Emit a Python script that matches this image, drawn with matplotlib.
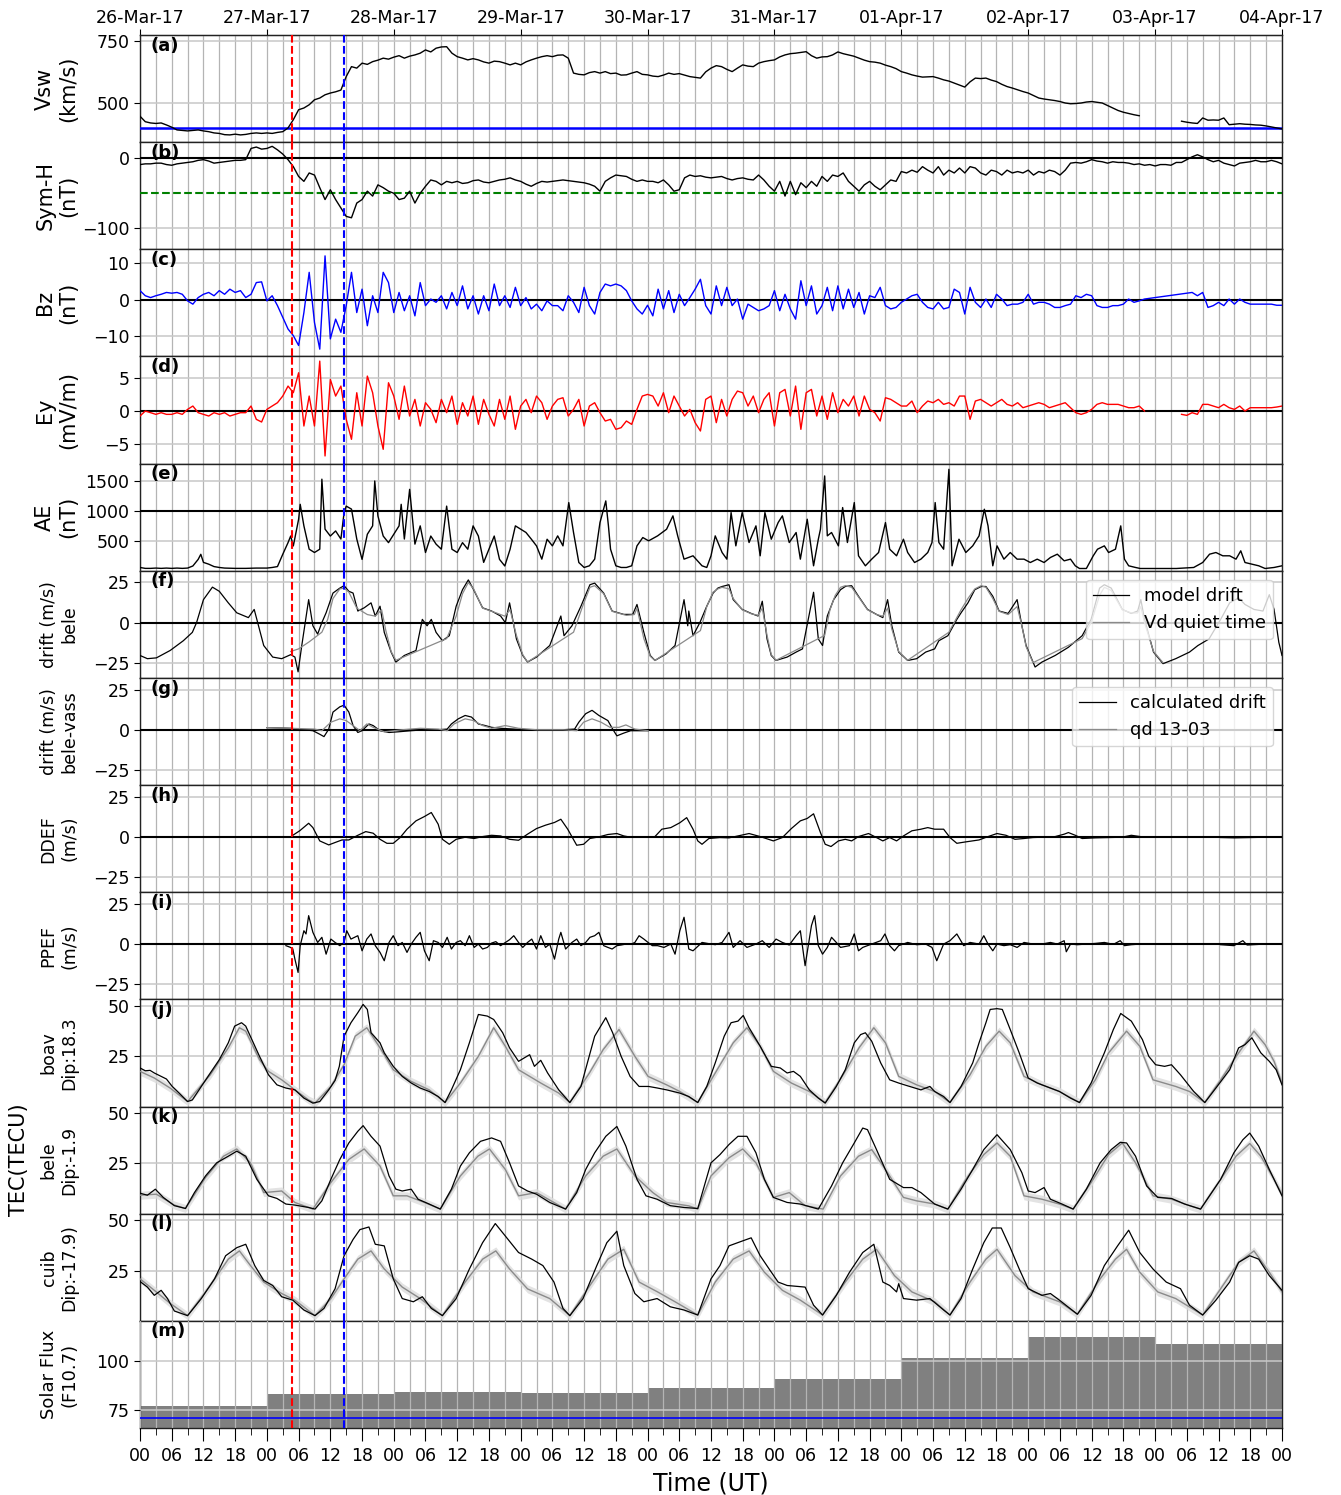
# -*- coding: utf-8 -*-

"""Storm overview 26-Mar to 04-Apr 2017: solar wind, indices, drifts, TEC and F10.7."""

import matplotlib

matplotlib.use("Agg")
import matplotlib.pyplot as plt
import numpy as np
from matplotlib.ticker import MultipleLocator

nan = float("nan")

day_labels = ["26-Mar-17", "27-Mar-17", "28-Mar-17", "29-Mar-17", "30-Mar-17",
              "31-Mar-17", "01-Apr-17", "02-Apr-17", "03-Apr-17", "04-Apr-17"]
onset_hour = 28.75        # red dashed line
main_phase_hour = 38.6    # blue dashed line
vsw_reference = 400
symh_threshold = -50
ae_reference = 1000
f107_reference = 71

# hourly values, one row per day, last entry is 04-Apr 00 UT
vsw_kms = [
    447, 425, 420, 418, 420, 412, 403, 392, 390, 388, 390, 392, 388, 385, 380, 378, 373, 372, 375, 372, 374, 378, 380, 378,
    380, 378, 382, 385, 400, 433, 473, 480, 493, 513, 520, 533, 540, 545, 552, 606, 646, 640, 660, 655, 666, 672, 680, 676,
    684, 690, 680, 688, 693, 700, 713, 705, 720, 725, 726, 700, 686, 680, 673, 678, 673, 665, 660, 668, 666, 660, 653, 660,
    653, 665, 673, 680, 686, 690, 686, 692, 693, 680, 620, 615, 613, 622, 626, 620, 626, 618, 620, 612, 613, 620, 626, 615,
    613, 608, 606, 612, 620, 615, 618, 612, 606, 603, 600, 625, 640, 650, 646, 635, 626, 640, 653, 648, 646, 660, 666, 670,
    673, 685, 693, 698, 700, 703, 706, 690, 680, 685, 686, 693, 705, 698, 693, 688, 680, 672, 666, 664, 660, 652, 646, 638,
    626, 620, 613, 608, 604, 605, 606, 600, 593, 588, 580, 572, 564, 585, 600, 598, 600, 592, 586, 575, 566, 560, 553, 546,
    540, 530, 520, 516, 513, 510, 506, 500, 497, 498, 500, 504, 506, 503, 500, 490, 480, 470, 463, 458, 453, 449, nan, nan,
    nan, nan, nan, nan, nan, 427, 423, 420, 418, 440, 431, 432, 431, 440, 413, 415, 417, 415, 414, 412, 411, 408, 404, 400,
    396,
]
symh_nt = [
    -9, -8, -8, -7, -7, -9, -10, -8, -7, -6, -5, -3, -2, -4, -7, -6, -5, -4, -3, -3, -2, 14, 16, 13,
    14, 17, 12, 6, -2, -12, -26, -33, -21, -24, -42, -59, -45, -59, -71, -83, -85, -64, -59, -47, -54, -38, -42, -47,
    -50, -59, -57, -47, -64, -50, -40, -31, -33, -38, -33, -35, -33, -36, -35, -32, -31, -34, -35, -33, -31, -30, -28, -31,
    -33, -37, -40, -36, -33, -34, -33, -32, -31, -32, -33, -34, -35, -37, -40, -47, -33, -28, -24, -25, -26, -30, -33, -31,
    -33, -33, -35, -31, -38, -47, -45, -28, -24, -26, -25, -27, -28, -27, -26, -29, -31, -29, -28, -30, -31, -24, -31, -40,
    -47, -33, -54, -33, -52, -35, -42, -33, -40, -26, -33, -24, -26, -21, -33, -40, -47, -38, -33, -40, -45, -38, -31, -33,
    -19, -21, -17, -20, -12, -17, -21, -12, -24, -17, -21, -14, -21, -12, -14, -21, -24, -17, -19, -24, -17, -21, -19, -21,
    -17, -24, -19, -21, -17, -19, -24, -17, -7, -6, -7, -5, -2, -4, -5, -7, -5, -6, -6, -7, -9, -8, -10, -9,
    -11, -9, -9, -10, -6, -6, -2, 2, 5, 2, -2, -5, -3, -7, -9, -11, -7, -6, -5, -3, -5, -5, -3, -5,
    -8,
]
bz_nt = [
    2.5, 1.1, 0.6, 1.1, 1.5, 2.0, 1.8, 2.0, 1.5, -0.3, -1.2, 0.6, 1.5, 2.0, 1.1, 2.5, 1.5, 2.9, 2.0, 2.5, 0.6, 1.5, 4.7, 4.9,
    -0.3, 1.1, -1.6, -4.8, -8.0, -9.8, -12.5, -3.5, 7.5, -6.2, -13.5, 12.0, -10.7, -5.3, -8.9, -1.6, 7.5, -3.5, 2.9, -7.1, 1.1, -3.5, 7.5, 4.7,
    -3.5, 2.0, -3.0, 1.1, -4.4, 4.7, -1.6, 0.2, -0.7, 1.1, -2.5, 2.0, -1.6, 3.8, -2.5, 1.1, -3.9, 1.1, -3.0, 4.3, -1.6, 1.1, -2.1, 3.4,
    -1.6, 0.6, -2.5, -1.2, -3.0, -0.3, -1.6, -1.6, -3.0, 1.1, -0.7, -3.5, 3.4, -1.6, -3.9, 2.0, 4.3, 3.8, 4.3, 3.8, 2.5, -0.3, -2.5, -3.9,
    -1.5, -4.4, 2.9, -2.5, 2.5, -3.5, 1.5, -1.6, 0.6, 2.9, 5.6, -1.6, -3.9, 3.8, -1.6, 3.4, -1.6, 0.2, -5.3, -1.2, -2.1, -3.0, -2.5, -1.6,
    2.5, -3.0, 1.5, -2.5, -5.3, 5.2, -1.6, 3.8, -3.9, -1.6, 3.4, -3.0, 3.8, -2.5, 2.9, -2.1, 2.0, -3.9, 1.1, 0.6, 3.4, -1.6, -2.5, -2.1,
    -0.7, 0.2, 1.1, 1.5, -0.7, -2.1, -2.5, -0.7, -2.5, -2.1, 2.9, 2.0, -3.9, 3.4, -0.7, -2.1, 0.2, -2.1, 1.5, 0.2, -1.6, -1.2, -1.2, -0.7,
    1.5, -1.2, -0.7, -0.7, -1.2, -2.1, -2.1, -1.6, -1.2, 1.1, 0.6, 1.5, 1.1, -1.6, -2.1, -2.1, -1.6, -1.6, -1.2, 0.2, -0.7, -0.3, 0.2, nan,
    nan, nan, nan, nan, nan, nan, 1.8, 2.0, 1.1, 2.0, -2.1, -1.6, -0.7, -1.6, 0.2, -1.2, 0.2, -0.7, -1.2, -1.2, -1.2, -1.2, -1.2, -1.5,
    -1.5,
]
ey_mvm = [
    -0.75, 0, -0.25, -0.5, -0.25, -0.5, -0.5, -0.25, -0.5, 0.25, 0.75, -0.25, -0.5, -0.75, -0.25, -0.5, -0.25, -0.75, -0.5, -0.25, -0.25, 0.75, -1.25, -1.65,
    0.25, 0.75, 1.25, 2.25, 3.75, 2.75, 5.75, -2.25, 2.25, -2.25, 7.5, -6.75, 4.75, 2.25, 3.75, -1.25, -4.25, 2.75, -2.25, 5.25, 2.75, -2.25, -5.75, 4.25,
    2.25, -1.25, 3.75, -0.75, 1.75, -2.25, 1.25, 0.25, -1.75, 1.75, -0.25, 2.25, -2.0, 1.25, -0.75, 2.25, -2.0, 1.75, -0.5, -2.25, 1.75, -1.25, 2.25, -2.75,
    0.75, 1.75, -0.25, 2.25, 1.25, -1.25, 0.75, 1.75, 2.0, -0.75, 0.25, 1.75, -2.25, 0.75, 1.25, -0.25, -1.5, -1.25, -2.75, -2.5, -1.5, -2.0, 0.25, 2.25,
    2.5, 2.25, 0.75, 2.75, -0.25, 2.25, 0.75, -0.75, 0.25, -1.75, -3.0, 1.75, 2.25, -1.75, 1.75, -0.75, 1.75, 3.0, 2.75, 0.75, 2.25, -0.25, 1.75, 2.75,
    -2.25, 2.75, 3.25, -0.75, 3.75, -2.75, 2.75, 3.25, -0.75, 2.25, -1.25, 2.75, -0.25, 1.75, 0.75, 2.25, -0.75, 2.25, 0.25, -0.25, -1.5, 2.0, 1.75, 1.25,
    0.75, 0.75, 1.5, -0.25, 0.75, 1.5, 1.25, 1.75, 1.0, 1.25, 0.75, 2.25, 2.25, -1.25, 1.5, 1.75, 1.25, 0.75, 1.25, 1.75, 1.0, 0.75, 1.25, 0.5,
    0.75, 1.0, 1.25, 1.0, 0.5, 0.75, 1.0, 1.25, 0.5, -0.25, -0.5, -0.25, 0.25, 1.0, 1.25, 1.0, 1.0, 1.0, 0.75, 0.5, 0.5, 0.75, 0, nan,
    nan, nan, nan, nan, nan, -0.5, -0.65, -0.25, -0.5, 1.0, 1.0, 0.75, 0.5, 1.0, 0.5, 0.25, 0.75, 0, 0.5, 0.5, 0.5, 0.5, 0.5, 0.6,
    0.75,
]

# (hour since 26-Mar 00 UT, value)
ae_points = [
    (0, 55), (1, 40), (2, 40), (3, 45), (4, 40), (5, 45), (6, 40), (7, 45), (8, 40), (9, 45), (10, 80), (11, 190),
    (11.5, 275), (12, 140), (13, 110), (14, 70), (15, 55), (16, 45), (18, 40), (20, 40), (22, 45), (24, 45), (25, 55),
    (26, 70), (27, 275), (28, 470), (28.5, 580), (29, 415), (30, 860), (30.3, 1110), (31, 750), (32, 360), (33, 305),
    (34, 360), (34.4, 1530), (35, 695), (36, 580), (37, 665), (38, 530), (38.6, 970), (39, 1080), (40, 1030), (41, 530),
    (42, 190), (43, 610), (44, 750), (44.4, 1500), (45, 915), (46, 580), (47, 470), (48, 610), (49, 750), (49.4, 1110),
    (50, 530), (51, 1360), (52, 445), (53, 750), (54, 305), (55, 580), (56, 445), (57, 360), (58, 1080), (59, 360),
    (60, 305), (61, 470), (62, 360), (63, 750), (64, 580), (65, 140), (66, 360), (67, 580), (68, 190), (69, 80),
    (70, 360), (71, 750), (72, 695), (73, 640), (74, 530), (75, 415), (76, 194), (77, 527), (78, 416), (79, 583),
    (80, 416), (81.1, 1139), (82, 639), (83, 138), (84, 55), (85, 83), (86, 194), (87, 805), (88.1, 1167), (88.6, 750),
    (89, 360), (90, 83), (91, 55), (92, 55), (93, 83), (94, 416), (95.1, 555), (96.2, 500), (97.9, 583), (99.6, 694),
    (100.8, 917), (101.7, 583), (102.9, 194), (104.6, 250), (106.3, 83), (107.2, 55), (108, 250), (108.8, 583),
    (110.1, 305), (111, 194), (111.8, 972), (112.7, 416), (113.9, 972), (115.2, 472), (116.5, 750), (117.3, 250),
    (118.2, 972), (119.4, 527), (120.7, 805), (121.5, 917), (122.8, 472), (124.1, 639), (124.9, 194), (126.2, 861),
    (127.4, 83), (128.3, 527), (128.7, 694), (129.5, 1584), (130, 583), (130.8, 639), (132.1, 416), (132.9, 1056),
    (133.8, 472), (135.1, 1139), (135.9, 250), (137.2, 83), (138.4, 194), (139.7, 305), (141, 805), (141.8, 360),
    (143.1, 250), (144.4, 527), (145.2, 305), (146.5, 138), (147.7, 194), (149, 305), (149.8, 472), (150.4, 1139),
    (151.1, 472), (152, 360), (153, 1695), (153.6, 83), (154.9, 527), (156.2, 305), (157.5, 416), (158.7, 583),
    (159.7, 1028), (160.4, 750), (161.3, 83), (162.1, 416), (163.4, 194), (164.6, 305), (165.9, 194), (167.2, 194),
    (168.4, 138), (169.7, 194), (171, 138), (172.2, 222), (173.5, 277), (174.8, 166), (176, 194), (176.9, 83),
    (177.7, 38), (179, 38), (180.3, 250), (181.1, 360), (182.4, 416), (183.2, 305), (184.5, 360), (185.5, 750),
    (186.2, 194), (187, 83), (188.3, 55), (189.2, 38), (192, 38), (196, 38), (199.3, 55), (201, 138), (202.3, 277),
    (203.5, 305), (204.8, 250), (206.1, 250), (207.3, 194), (208.2, 333), (209, 138), (210.3, 111), (211.6, 83),
    (212.8, 38), (214.5, 55), (216, 83),
]

drift_model_points = [
    (0, -20.5), (1.4, -22.5), (3.1, -22), (5.7, -17.4), (8.2, -11.3), (9.9, -6.1), (10.7, 0), (12, 14.3), (13.7, 22.1),
    (15, 19.5), (16.7, 12.3), (18.3, 6.1), (20.5, 3.1), (21.6, 8.2), (22.1, 2), (23.4, -14.3), (25.1, -21.5),
    (26.8, -22.5), (28.5, -20), (29.3, -21.5), (29.9, -30.7), (30.6, -14.3), (31.9, 14.3), (32.7, -2), (33.6, -7.2),
    (34.4, 0), (35.2, 6.1), (36.5, 18.4), (37.8, 21.5), (38.6, 23), (39.5, 19.5), (40.3, 18.4), (41.2, 7.2),
    (42.4, 9.2), (43.7, 12.3), (44.5, 4.1), (45.4, 10.2), (46.2, -6.1), (47.5, -18.4), (48.4, -24.6), (50, -20.5),
    (52.2, -17.4), (53.4, 2), (54.3, -2), (55.1, 2), (56, -6.1), (57.2, -11.3), (58.5, -8.2), (59.8, 10.2), (61, 20.5),
    (62.1, 26.6), (63.1, 20.5), (64.8, 9.2), (66.5, 7.2), (68.2, 4.1), (69.1, 0), (69.9, 12.3), (71.2, -10.2),
    (72.4, -20.5), (73.3, -24.6), (75, -21.5), (77.5, -14.3), (79.6, 4.1), (80.2, -8.2), (81.7, -2), (83.4, 10.2),
    (85.1, 23.6), (86, 24.6), (87.7, 18.4), (89.3, 7.2), (91.5, 5.1), (93.2, 5.1), (94, 11.3), (95.3, -6.1),
    (96.5, -20.5), (97.4, -23.6), (99.5, -19.5), (101.2, -14.3), (102.9, 14.3), (103.6, -2), (103.8, 7.2),
    (104.6, -8.2), (105.9, 0), (107.2, 10.2), (108.4, 18.4), (109.3, 21.5), (110.1, 22.5), (111.4, 23.6), (112.2, 14.3),
    (113.9, 8.2), (115.6, 5.7), (116.9, 4.1), (117.7, 13.3), (118.6, -10.2), (119.4, -20.5), (120.3, -23.6),
    (122.4, -21.5), (124.1, -18.4), (125.3, -16.4), (127.4, 18.9), (128.3, -10.2), (129.1, -14.3), (130, 4.1),
    (131.2, 14.3), (132.5, 20.5), (133.4, 22.5), (134.6, 23.0), (135.9, 16.4), (137.6, 8.2), (139.3, 5.1),
    (140.5, 3.1), (141.4, 14.3), (142.2, -2), (143.5, -18.4), (145.2, -23.6), (146.9, -22.5), (148.6, -18.4),
    (150.3, -16.4), (151.1, -11.3), (152.8, -8.2), (154.5, 2), (155.3, 6.1), (156.6, 12.3), (157.9, 20.5),
    (159.1, 22.5), (160, 22.5), (161.3, 16.4), (162.5, 7.2), (164.2, 5.7), (165.9, 14.3), (166.8, -2), (167.6, -14.3),
    (168.9, -24.6), (169.3, -27.7), (170.6, -24.6), (173.1, -20.5), (175.6, -15.4), (178.2, -8.2), (179.9, 2),
    (181.5, 21.5), (182.4, 23.6), (183.7, 21.5), (185.8, 8.2), (187.5, 5.7), (188.7, 7.2), (189.3, 14.3), (190, 2),
    (191.7, -18.4), (193.5, -25.6), (195.9, -22.5), (198.5, -18.4), (200.1, -14.3), (202.2, -10.2), (204.4, 2),
    (206.1, 12.3), (207.8, 15.4), (209, 11.3), (210.7, 8.2), (212.4, 7.2), (213.6, 17.4), (214.5, 8.2), (215.4, -12.3),
    (216, -20.5),
]
drift_quiet_points = [
    (28.5, -18), (30, -16.4), (32, -12), (34.4, -6), (35.5, 2), (36.5, 15), (37.8, 21), (38.6, 21.5), (39.5, 19),
    (41, 9), (43, 5), (44.5, 4), (45.7, 8), (46.5, -5), (47.5, -18), (48.4, -23.5), (58, -10), (59.8, 4), (61, 18),
    (62.1, 25), (63.1, 21), (64.8, 9), (67.4, 6), (69, 4), (70, 8), (71.2, -8), (72.4, -20), (73.3, -24.6), (82, -6),
    (83.7, 10), (85.1, 22), (86, 23), (87.7, 18), (89.3, 7), (92, 4.5), (93.5, 5), (94, 9), (95.3, -10), (96.5, -21),
    (97.4, -23.6), (106, -5), (107.2, 10), (108.4, 19), (109.3, 21), (110.1, 22), (111.4, 21), (112.2, 15),
    (113.9, 8), (115.6, 5.5), (116.9, 4.5), (117.7, 9), (118.6, -8), (119.4, -20), (120.3, -23.5), (129.5, -8),
    (130.5, 8), (131.5, 17), (132.5, 22), (133.4, 23), (134.6, 22), (135.9, 16), (137.6, 8), (139.3, 5), (140.5, 4),
    (141.4, 9), (142.2, -4), (143.5, -18), (145.2, -23.5), (153, -6), (155.3, 8), (156.6, 15), (157.9, 21),
    (159.1, 23), (160, 22), (161.3, 15), (162.5, 7), (164.2, 5), (165.9, 10), (166.8, -2), (167.6, -15), (168.9, -25),
    (178.2, -10), (179.9, 0), (181.5, 17), (182.4, 22), (183.7, 20), (185.8, 8), (187.5, 6), (188.7, 6), (189.3, 10),
    (190, 0), (191.7, -18), (193.5, -25),
]

diff_drift_points = [
    (24, 1.3), (28.5, 0.9), (31, 0), (32.7, -0.6), (34, -2.8), (34.8, -4.3), (35.7, 0.4), (36.5, 11), (37.8, 14.3),
    (38.6, 15.3), (39.5, 11), (40.3, 2.6), (41.2, -1.7), (42, -0.6), (43.3, 3.6), (44.1, 2.6), (45.4, -0.6),
    (47.1, -1.7), (48.8, -1.3), (51.3, -0.6), (53.8, 0), (56.4, 0), (58.1, 0.4), (58.9, 3.6), (60.2, 6.8),
    (61.5, 8.9), (62.7, 7.9), (64, 3.6), (65.3, 2.6), (66.5, 1.5), (68.2, 0.9), (70.8, 0.4), (73.3, 0), (76.7, 0),
    (80, 0), (82.2, 0.4), (83, 4.7), (84.3, 10), (85.5, 12.1), (86.8, 8.9), (88.5, 5.7), (89.4, 0.4), (90.2, -3.8),
    (91.5, -2.1), (92.8, -0.6), (95.3, -0.6), (96.1, -0.6),
]
diff_quiet_points = [
    (24, 1.3), (28.5, 0.9), (33, 0.4), (34.4, -0.6), (36.1, 4.7), (37.8, 6.8), (39, 5.7), (40.3, 2.6), (41.6, -0.6),
    (42.9, 3.6), (44.1, 1.5), (46.2, -1.3), (49.6, 0), (53, 0.9), (56.4, 0.4), (58.1, -0.6), (59.4, 3.6), (61.5, 6.8),
    (63.1, 5.7), (64.8, 2.6), (66.5, 0.9), (69.1, 2.6), (71.6, 0.9), (75, 0), (80, 0), (82.6, -0.6), (83.9, 4.7),
    (85.5, 6.8), (87.2, 4.7), (88.9, 1.5), (90.6, 1.5), (91.9, 3), (93.6, 0.4), (96.1, -0.6),
]

ddef_points = [
    (28.9, 1), (30.2, 3.8), (31.9, 8.5), (32.7, 5.8), (34, -2.5), (35.7, -5), (36.9, -3.5), (38.2, -1.9),
    (39.5, -1.9), (41.2, 1), (42.7, 3.3), (44.1, 2.3), (45.4, -1.5), (46.7, -4), (47.9, -4), (49.2, -0.4),
    (50.5, 4.8), (52.2, 10), (53.8, 12.7), (55.1, 15.2), (56.4, 7.9), (57.2, -1.5), (58.5, -4.6), (59.8, -1.5),
    (61.5, -0.2), (63.2, -1), (64.8, 0.2), (66.5, 1), (68.2, 0.6), (69.9, -1.5), (71.6, -2.1), (73.3, 1.7), (75, 5.2),
    (76.7, 7.3), (78.4, 9), (79.6, 11), (80.9, 4.8), (82.6, -5.2), (83.9, -4.6), (85.1, -1), (86.8, 0), (88.5, 1.5),
    (90.2, 2.1), (91.5, 0.6), (92.8, -0.2), (95.3, -0.2), (97.4, 0.2), (98.7, 4.8), (100.4, 5.8), (102.1, 8.8),
    (103.4, 12), (104.6, 4.8), (105.5, -2.5), (106.3, -4.6), (107.6, -1), (109.7, -0.4), (111.4, -0.6), (113.1, 0.6),
    (115.2, 2.1), (117.3, 0.2), (119.8, -2.5), (121.5, -0.4), (123.2, 5.2), (124.9, 10), (126.2, 11.5), (127.4, 14.4),
    (128.7, 2.7), (129.6, -4.6), (130.7, -6), (132.1, -2.5), (133.4, -1.5), (134.6, -2.5), (135.9, 0.2), (137.8, 2.1),
    (139.3, -0.4), (140.5, -2.5), (141.8, -0.4), (143.1, -2.5), (144.4, 0.6), (146, 3.8), (147.7, 4.8), (149, 5.8),
    (150.3, 4.8), (152, 4.8), (153.2, -0.4), (154.5, -4), (156.2, -3.1), (158.7, -1.9), (160.4, 0.2), (162.1, 2.1),
    (163.8, 1), (165.5, -1.5), (167.2, -1), (168.9, -0.4), (170.6, -0.2), (173.1, 0.2), (174.8, 1.7), (175.6, 2.7),
    (176.9, 1), (178.2, -1), (180.7, -0.6), (183.2, -0.4), (185.7, -0.2), (187.5, 1), (189.2, 0.2), (190, nan),
    (204.4, -0.4), (207, -0.6), (210, -0.4), (212.8, -0.2),
]
ppef_points = [
    (7.0, 0), (8.0, 0), (9, nan), (11.8, 0.2), (12.5, 0), (13, nan), (27.6, -1), (28.4, -2), (28.9, -3), (29.3, -9.4),
    (29.9, -17.7), (30.3, -1), (31, 8.3), (31.4, 6.3), (31.9, 17.7), (32.7, 7.3), (33.6, 1), (34.4, 4.2), (35.2, -6.3),
    (36.1, 3.1), (36.9, 1), (37.8, -1), (38.6, 1), (39.1, 8.3), (39.9, 3.1), (41.2, 5.2), (42, -4.2), (42.9, 3.1),
    (43.7, 6.3), (44.5, -1), (45.4, -5.2), (46.2, -10.4), (47.1, 1), (47.9, 5.2), (48.8, -1), (49.6, 1), (50.5, -5.2),
    (51.3, 0), (52.2, 4.2), (53, 7.3), (53.8, -4.2), (54.7, -10.4), (55.5, 2.1), (56.4, 1), (57.2, -2.1), (58.1, 4.2),
    (58.9, -3.1), (59.8, 1), (60.6, 2.1), (61.5, -1), (62.3, 5.2), (63.2, -2.1), (64, 0), (64.8, -3.1), (65.7, -2.1),
    (66.5, 0.6), (67.3, 1.5), (68.2, -1), (69.9, 2.7), (70.7, 5.2), (71.6, 1), (72.4, -2.1), (73.3, 1), (74.1, 3.1),
    (75, -3.1), (75.8, 5.2), (76.7, -2.1), (77.5, 0), (78.4, -9.4), (79.2, 3.1), (79.6, 7.3), (80.5, -3.1), (81.7, 1),
    (82.6, 3.1), (83.4, -1), (84.3, 1), (85.1, 4.2), (86, 5.2), (86.8, 7.3), (87.7, -1), (88.5, -2.1), (89.3, -3.1),
    (90.2, -1), (91, -0.6), (91.9, 0), (92.8, -0.2), (93.6, 1), (94.4, 5.2), (95.3, 3.1), (96.1, 1), (96.9, -1),
    (97.9, -1), (99.1, -2.1), (100.4, 0), (101.2, -6.3), (102.1, 8.3), (102.9, 16.7), (103.8, -3.1), (104.6, -4.2),
    (106.3, 1), (108, 0), (108.8, -0.4), (110.1, 1), (111.4, 7.3), (112.2, -2.1), (113.5, 2.1), (114.8, -2.1),
    (116.5, 0), (117.7, 2.1), (119, -2.1), (120.3, 3.1), (121.5, 1), (122.8, -0.6), (124.1, 5.2), (124.9, 8.3),
    (125.8, -13.5), (127, 11.5), (127.6, 17.7), (128.3, -1), (129.1, -6.3), (130, -2.1), (130.8, 4.2), (131.7, 1),
    (132.5, -2.1), (134.2, -1), (135.1, 6.3), (135.9, -4.2), (136.7, -2.1), (138.4, 0), (140.1, 2.1), (140.9, 6.3),
    (141.8, -1), (142.7, -4.2), (143.5, -1), (145.2, 1), (146.9, -0.4), (148.6, 0), (149.8, -2.1), (150.7, -10.4),
    (152, 0), (153.2, 2.1), (154.5, 6.3), (155.8, -1), (157, 1), (158.7, 0), (159.6, 5.2), (160.4, 0), (161.3, -4.2),
    (162.1, 0), (163.4, -1), (164.6, -0.4), (165.9, -2.1), (167.2, 1), (168.9, 0), (170.6, 0), (172.2, 1), (173.5, 0),
    (174.8, 2.1), (175.2, -4.8), (176, 0), (177.3, -0.4), (179, 0), (180.7, 0.4), (182.4, 1), (184.1, -0.2),
    (185.4, 2.1), (186.2, -1), (187.5, -0.4), (189.2, 0), (190, nan), (204.4, -0.4), (206.9, -1), (208.6, 2.1),
    (209.4, -0.6), (212.8, 0), (216, 0),
]

boav_tec = [
    (0, 19.2), (1, 17.8), (1.9, 18), (2.7, 16.7), (4, 15), (5, 13.7), (6.1, 10), (7.4, 6.7), (9, 2.5), (9.9, 3.3),
    (11.6, 10), (13.3, 16.7), (15, 23.3), (16.7, 31.7), (17.9, 40), (19.2, 41.7), (20, 40), (21.3, 32.5), (22.6, 25),
    (24.3, 15.8), (25.9, 10.8), (27.6, 9.2), (29.3, 8.3), (31, 4.2), (32.7, 1.7), (34, 2.5), (35.7, 8.3), (36.9, 13),
    (37.7, 20), (38.6, 35), (39.9, 41.7), (41.2, 46.7), (42.2, 50.8), (43, 48.3), (43.7, 36.7), (45.4, 31.7),
    (46.2, 26.7), (47.9, 20), (49.6, 15), (51.3, 11.7), (53, 9.2), (54.7, 7.5), (56.4, 5), (57.7, 2), (58.9, 8.3),
    (60.6, 18.3), (62.3, 31.7), (64, 45.8), (65.7, 45), (66.9, 43.3), (68.6, 36.7), (69.9, 29.2), (71.6, 22.5),
    (73.7, 25.8), (74.6, 20), (75.8, 23), (77.1, 16.7), (79.2, 8.3), (81.3, 2), (83.4, 10), (86, 35), (88.1, 44.2),
    (89.4, 36.7), (91, 25), (92.7, 15), (94.4, 10), (96.2, 10), (97.9, 9.2), (99.6, 8.3), (102.1, 6.7), (103.8, 5),
    (105.5, 2), (107.2, 10), (108.8, 21.7), (110.5, 35), (111.8, 41.7), (113.1, 42.5), (114.1, 45.3), (115.2, 39.2),
    (117.3, 30), (119.4, 20), (121.1, 19.2), (122.4, 16.7), (123.6, 17.5), (124.9, 15), (126.6, 8.3), (128.3, 4.2),
    (129.6, 1.7), (131.7, 10), (133.4, 18.3), (135.1, 31.7), (136.3, 35.8), (137.2, 36.7), (138.4, 32.5),
    (140.1, 21.7), (141.8, 13.3), (143.5, 11.7), (145.2, 10.3), (147.7, 8.3), (149.4, 10), (150.3, 7.5), (152, 5),
    (153.2, 2), (155.3, 10), (157.5, 21.7), (158.7, 31.7), (160, 41.7), (160.8, 48.3), (162.1, 48.7), (163.1, 48.3),
    (164.6, 38.3), (166.3, 26.7), (168, 14.2), (169.7, 11.7), (171.4, 10), (173.9, 7.5), (176, 4.2), (177.7, 2),
    (179.9, 11.7), (182.4, 26.7), (184.1, 38.3), (185.5, 46.3), (187.5, 42.5), (189.6, 33.3), (190.8, 25),
    (192.1, 20.8), (193.8, 20), (195.1, 20.8), (196.8, 15.8), (199.3, 7.5), (201.4, 2), (203.5, 9.2), (206.1, 18.3),
    (207.8, 29.2), (209, 30.8), (210.3, 34.2), (212, 26.7), (213.6, 22.5), (214.9, 18.3), (216, 10.8),
]
boav_quiet = [
    (0, 17.5), (2.7, 14.2), (5.7, 9.2), (9, 2.5), (13.3, 15.8), (16.7, 29.2), (18.8, 39.2), (20, 37.5), (22.6, 23.3),
    (24.3, 17.5), (26.8, 13.3), (29.3, 8.3), (31.9, 3.3), (33.1, 1.7), (36.1, 10), (38.6, 20.8), (40.7, 35),
    (42.9, 39.2), (45.4, 29.2), (47.9, 18.3), (51.3, 12.5), (54.7, 8.3), (57.7, 2), (60.6, 11.7), (64, 25),
    (66.9, 39.2), (69.1, 30), (71.6, 18.3), (75.8, 11.7), (79.2, 6.7), (81.3, 2), (85, 16.7), (87.6, 28.3),
    (90.6, 38.3), (93.6, 25), (96.1, 15), (99.6, 10.8), (102.1, 7.5), (105.5, 2), (108.8, 16.7), (112.2, 31.7),
    (114.8, 39.2), (117.3, 30), (119.8, 17.5), (123.2, 11.7), (126.6, 7.5), (129.6, 2), (133, 15.8), (136, 29.2),
    (138.8, 39.2), (141, 31.7), (143.5, 15), (146.9, 10.8), (150.3, 7.5), (153.2, 2), (157, 15.8), (160, 30),
    (162.5, 37.5), (164.6, 31.7), (167.2, 15), (170.6, 10.8), (173.9, 7.5), (177.7, 2), (180.7, 13.3), (183.2, 26.7),
    (186.6, 37.5), (189.1, 30), (191.6, 13.3), (195.9, 10), (198.5, 7.5), (201.4, 2), (204.4, 13.3), (207.8, 26.7),
    (210.7, 37.5), (212.8, 30.8), (214.5, 22.5), (216, 11.7),
]
bele_tec = [
    (0, 10.2), (1.4, 9.2), (2.9, 12.2), (4.4, 8.1), (6.5, 4), (8.6, 2.6), (10.3, 10.5), (12.4, 18.8), (14.5, 25.3),
    (16.7, 28.6), (18.3, 31.1), (20, 28.6), (22.1, 17.1), (24.3, 8.9), (25.9, 7.6), (27.6, 4.8), (29.3, 4.3),
    (31.9, 3.1), (33.1, 2.3), (34.4, 6.4), (36.1, 17.1), (37.8, 27), (39.5, 35.2), (41.2, 41), (42.2, 43.8),
    (43.7, 38.5), (45.4, 33.6), (47.1, 18.8), (48.4, 12.2), (49.6, 11.3), (51.3, 12.2), (52.6, 7.2), (54.7, 4.8),
    (56.8, 2.3), (58.9, 12.2), (60.6, 23.7), (62.3, 30.3), (64.4, 36), (66.5, 37.7), (68.2, 36), (69.9, 25.3),
    (71.6, 13.8), (73.3, 11.3), (75, 9.7), (77.5, 5.6), (80.5, 2.3), (82.6, 10.5), (84.3, 22), (86, 30.3),
    (88.1, 38.5), (90.2, 43.4), (91.9, 33.6), (94, 17.1), (95.7, 8.9), (97.8, 7.2), (100.3, 4), (102.9, 3.1),
    (105.5, 2.6), (108, 25.3), (109.7, 29.4), (111.4, 34.4), (113.1, 38.5), (114.8, 38.5), (116.5, 30.3),
    (118.1, 17.1), (119.8, 8.1), (122.4, 5.6), (124.9, 4.8), (128.3, 2.3), (130.8, 13.8), (132.9, 25.3), (135.1, 35.2),
    (136.7, 42.6), (137.6, 41.8), (139.3, 31.9), (141.8, 17.1), (144.4, 13), (146, 13), (147.7, 10.5), (150.3, 4.8),
    (152.8, 2.3), (155.3, 12.2), (157.5, 22), (159.6, 31.9), (162.1, 39.3), (164.6, 31.9), (166.8, 20.4), (168, 11.3),
    (169.3, 10.5), (171, 13), (172.2, 7.2), (174.4, 4.8), (176.5, 2.3), (179, 12.2), (181.6, 25.3), (183.7, 31.9),
    (185.4, 35.5), (186.6, 35.2), (188.3, 28.6), (190.4, 13.8), (192.5, 8.1), (195.1, 7.6), (197.6, 4.8),
    (200.6, 2.3), (202.7, 10.5), (204.4, 17.1), (206.9, 30.3), (208.6, 36.8), (209.9, 40.1), (211.6, 33.6),
    (213.6, 22), (216, 8.9),
]
bele_quiet = [
    (0, 9.2), (3.1, 9.7), (6.5, 4.3), (8.6, 2.6), (12.4, 18), (15.8, 28.6), (18.3, 32.2), (20.9, 25.3), (23.4, 10.5),
    (26.8, 11.3), (29.3, 5.6), (32.7, 2.3), (36.1, 15.5), (39.5, 27), (42.4, 32.2), (45.4, 23.7), (47.9, 8.9),
    (50.5, 8.9), (53.8, 5.6), (56.8, 2.3), (60.6, 18.8), (63.9, 28.6), (66.1, 32.2), (69.1, 22), (71.6, 8.9),
    (75, 10.5), (80.5, 2.3), (84.3, 18.8), (87.6, 28.6), (90.2, 32.2), (93.6, 18.8), (97, 10.5), (99.6, 5.6),
    (103.8, 3.9), (105.5, 2.3), (108, 18.8), (111.4, 27.8), (114, 32.2), (116.5, 25.3), (119.8, 8.1), (122.8, 10.5),
    (125.8, 4), (129.2, 2.3), (132.5, 18.8), (135.9, 28.6), (138.4, 31.9), (141, 22), (144.4, 8.1), (146.9, 6.4),
    (150.3, 4.8), (152.8, 2.3), (156.2, 17.1), (159.6, 29.4), (162.1, 35.2), (164.6, 28.6), (167.2, 8.9),
    (170.6, 7.2), (173.9, 4.8), (176.5, 2.3), (179.9, 15.5), (183.2, 29.4), (185.8, 35.2), (188.3, 25.3),
    (191.6, 8.9), (195.1, 7.2), (198.5, 4), (200.6, 2.3), (204.4, 17.1), (207.3, 28.6), (209.9, 34.9), (212, 28.6),
    (214.5, 17.1), (216, 9.7),
]
cuib_tec = [
    (0, 19.6), (1.4, 16.8), (2.7, 12.7), (4, 15.2), (5.2, 11.1), (6.5, 4.9), (9, 2.6), (11.6, 11.1), (14.1, 20.9),
    (16.2, 32.4), (18.3, 36.4), (20, 38.1), (21.7, 27.5), (23.4, 20.1), (25.1, 17.6), (26.8, 12), (28.9, 10.3),
    (31, 5.4), (33.1, 2.6), (34.8, 6.2), (36.9, 16), (38.6, 32.4), (40.3, 40.5), (41.6, 45.4), (43.3, 46.7),
    (44.5, 38.1), (46.2, 37.3), (47.9, 20.9), (49.6, 11.1), (51.7, 9.5), (53.4, 12), (55.1, 6.2), (57.2, 2.6),
    (59.8, 11.1), (62.3, 25.8), (64.8, 38.9), (67.2, 48.4), (69.1, 42.2), (71.6, 34), (74.1, 30.7), (76.2, 27.5),
    (78.3, 19.3), (80, 6.2), (81.3, 2.6), (83.8, 11.1), (86.4, 27.5), (88.3, 38.9), (90.2, 44.6), (91.5, 27.5),
    (93.6, 13.6), (95.3, 9.5), (97.8, 11.1), (100.3, 7), (102.9, 5.4), (105.5, 2.9), (108, 20.9), (109.7, 27.5),
    (111.4, 37.3), (113.9, 39.7), (115.6, 41.3), (117.3, 32.4), (119, 25.8), (120.7, 19.3), (122.4, 17.6),
    (125.8, 16.8), (127.4, 7.8), (129.1, 2.9), (131.7, 12.7), (134.2, 24.2), (136.7, 34), (138.8, 38.1),
    (140.5, 19.3), (141.8, 17.6), (143.1, 14.4), (143.5, 18.5), (144.4, 11.1), (146.9, 10.3), (149.4, 11.1),
    (152, 5.4), (153.2, 2.9), (155.3, 11.1), (157.5, 25.8), (159.6, 38.9), (161.2, 46.2), (162.9, 46.2),
    (164.6, 36.4), (166.3, 25.8), (168, 16), (170.6, 12.7), (172.2, 13.6), (173.9, 10.3), (177.3, 3.3),
    (179.9, 12.7), (182.4, 27.5), (184.9, 37.3), (187, 45.1), (189.1, 34), (191.6, 25.8), (194.1, 19.3), (196.8, 16),
    (198.5, 7.8), (201, 2.9), (203.5, 10.3), (206.1, 19.3), (207.8, 29.1), (209.9, 32.4), (211.6, 30.7),
    (213.6, 22.5), (216, 15.2),
]
cuib_quiet = [
    (0, 20.9), (2.7, 15.2), (5.7, 8.7), (9, 2.6), (13.3, 17.6), (16.7, 30.7), (18.8, 34.8), (20.9, 27.5),
    (23.4, 19.3), (26.8, 13.6), (29.3, 10.3), (33.1, 2.6), (36.1, 11), (38.6, 20.9), (41.2, 30.7), (43.7, 34.8),
    (46.2, 25.8), (49.6, 16.8), (53, 11.1), (57.2, 2.6), (61.5, 19.3), (64.8, 30.7), (67.3, 34.8), (69.9, 25.8),
    (73.3, 15.9), (77.5, 11.1), (81.3, 2.6), (85.1, 17.6), (88.5, 30.7), (91.5, 35.6), (94.4, 19.3), (97.9, 14.4),
    (101.2, 9.5), (105.5, 2.9), (108.8, 19.3), (112.2, 30.7), (115.2, 34.8), (118.1, 24.2), (121.5, 15.2),
    (124.9, 10.3), (129.1, 2.9), (133.4, 19.3), (136.7, 30.7), (139.3, 35.6), (142.7, 22.5), (146, 14.4),
    (150.3, 9.5), (153.2, 2.9), (157, 19.3), (160, 30.7), (162.1, 35.6), (165.5, 22.5), (168.9, 14.4), (173.9, 9.5),
    (177.3, 3.3), (181.6, 20.9), (184.5, 30.7), (186.6, 35.6), (189.1, 24.2), (192.5, 14.4), (195.9, 11.1),
    (201, 2.9), (204.4, 16), (207.8, 29.1), (210.7, 34.8), (213.6, 24.2), (216, 14.4),
]
quiet_spread_tecu = 2.0

f107_sfu = [77.2, 82.9, 84.0, 83.5, 86.1, 90.8, 101.4, 112.3, 108.4]


def hourly(values):
    return np.arange(len(values), dtype=float), np.array(values, dtype=float)


def unzip(points):
    hours = np.array([point[0] for point in points], dtype=float)
    values = np.array([point[1] for point in points], dtype=float)
    return hours, values


def style_axis(axis, letter, ylabel, ylim, yticks, label_size=15):
    axis.set_xlim(0, 216)
    axis.set_ylim(*ylim)
    axis.set_yticks(yticks)
    axis.xaxis.set_major_locator(MultipleLocator(6))
    axis.xaxis.set_minor_locator(MultipleLocator(3))
    axis.grid(which="both", axis="x", color="#b4b4b4", linewidth=0.9)
    axis.grid(which="major", axis="y", color="#c8c8c8", linewidth=1.1)
    axis.tick_params(axis="x", which="both", length=0)
    axis.tick_params(axis="y", labelsize=12.5, length=4)
    axis.set_ylabel(ylabel, fontsize=label_size)
    axis.yaxis.set_label_coords(-0.054, 0.5)
    axis.text(0.009, 0.985, letter, transform=axis.transAxes, va="top", ha="left",
              fontsize=13, fontweight="bold", zorder=6)
    axis.axvline(onset_hour, color="red", linestyle="--", linewidth=1.5, zorder=5)
    axis.axvline(main_phase_hour, color="blue", linestyle="--", linewidth=1.5, zorder=5)
    for spine in axis.spines.values():
        spine.set_linewidth(1.0)
        spine.set_color("#222222")


def plot_tec(axis, tec_points, quiet_points):
    quiet_h, quiet_v = unzip(quiet_points)
    axis.fill_between(quiet_h, quiet_v - quiet_spread_tecu, quiet_v + quiet_spread_tecu,
                      color="#dcdcdc", alpha=0.8, linewidth=0, zorder=2)
    axis.plot(quiet_h, quiet_v, color="#8a8a8a", linewidth=1.0, zorder=3)
    tec_h, tec_v = unzip(tec_points)
    axis.plot(tec_h, tec_v, color="black", linewidth=0.9, zorder=3)


def main():
    fig, axes = plt.subplots(13, 1, figsize=(13.41, 14.95), dpi=100, sharex=True,
                             gridspec_kw={"hspace": 0})
    fig.subplots_adjust(left=0.1044, right=0.956, top=0.9766, bottom=0.0448)

    # (a) solar wind speed
    hours, values = hourly(vsw_kms)
    axes[0].plot(hours, values, color="black", linewidth=1.0, zorder=3)
    axes[0].axhline(vsw_reference, color="blue", linewidth=1.8, zorder=2.6)
    style_axis(axes[0], "(a)", "Vsw\n(km/s)", (343, 773), [500, 750])

    # (b) Sym-H
    hours, values = hourly(symh_nt)
    axes[1].plot(hours, values, color="black", linewidth=1.0, zorder=3)
    axes[1].axhline(0, color="black", linewidth=1.5, zorder=2.6)
    axes[1].axhline(symh_threshold, color="green", linestyle="--", linewidth=1.5, zorder=2.6)
    style_axis(axes[1], "(b)", "Sym-H\n(nT)", (-130, 23), [-100, 0])

    # (c) IMF Bz, data gap bridged by a straight segment
    hours, values = hourly(bz_nt)
    valid = ~np.isnan(values)
    axes[2].plot(hours[valid], values[valid], color="blue", linewidth=1.0, zorder=3)
    axes[2].axhline(0, color="black", linewidth=1.5, zorder=2.6)
    style_axis(axes[2], "(c)", "Bz\n(nT)", (-15.5, 13.8), [-10, 0, 10])

    # (d) Ey
    hours, values = hourly(ey_mvm)
    axes[3].plot(hours, values, color="red", linewidth=1.0, zorder=3)
    axes[3].axhline(0, color="black", linewidth=1.5, zorder=2.6)
    style_axis(axes[3], "(d)", "Ey\n(mV/m)", (-7.9, 8.2), [-5, 0, 5])

    # (e) AE
    hours, values = unzip(ae_points)
    axes[4].plot(hours, values, color="black", linewidth=1.0, zorder=3)
    axes[4].axhline(ae_reference, color="black", linewidth=1.5, zorder=2.6)
    style_axis(axes[4], "(e)", "AE\n(nT)", (0, 1790), [500, 1000, 1500])

    drift_ylim = (-34.5, 32.3)
    # (f) drift at bele
    hours, values = unzip(drift_model_points)
    axes[5].plot(hours, values, color="black", linewidth=0.9, zorder=3, label="model drift")
    hours, values = unzip(drift_quiet_points)
    axes[5].plot(hours, values, color="#8a8a8a", linewidth=0.9, zorder=3, label="Vd quiet time")
    axes[5].axhline(0, color="black", linewidth=1.5, zorder=2.6)
    style_axis(axes[5], "(f)", "drift (m/s)\nbele", drift_ylim, [-25, 0, 25], 12.5)
    axes[5].legend(loc="upper right", fontsize=13)

    # (g) bele - vass drift
    hours, values = unzip(diff_drift_points)
    axes[6].plot(hours, values, color="black", linewidth=0.9, zorder=3, label="calculated drift")
    hours, values = unzip(diff_quiet_points)
    axes[6].plot(hours, values, color="#8a8a8a", linewidth=0.9, zorder=3, label="qd 13-03")
    axes[6].axhline(0, color="black", linewidth=1.5, zorder=2.6)
    style_axis(axes[6], "(g)", "drift (m/s)\nbele-vass", drift_ylim, [-25, 0, 25], 12.5)
    axes[6].legend(loc="upper right", fontsize=13)

    # (h) DDEF and (i) PPEF
    hours, values = unzip(ddef_points)
    axes[7].plot(hours, values, color="black", linewidth=0.9, zorder=3)
    axes[7].axhline(0, color="black", linewidth=1.5, zorder=2.6)
    style_axis(axes[7], "(h)", "DDEF\n(m/s)", drift_ylim, [-25, 0, 25], 12.5)

    hours, values = unzip(ppef_points)
    axes[8].plot(hours, values, color="black", linewidth=0.9, zorder=3)
    axes[8].axhline(0, color="black", linewidth=1.5, zorder=2.6)
    style_axis(axes[8], "(i)", "PPEF\n(m/s)", drift_ylim, [-25, 0, 25], 12.5)

    # (j)-(l) TEC
    tec_ylim = (0, 53.3)
    plot_tec(axes[9], boav_tec, boav_quiet)
    style_axis(axes[9], "(j)", "boav\nDip:18.3", tec_ylim, [25, 50], 12.5)
    plot_tec(axes[10], bele_tec, bele_quiet)
    style_axis(axes[10], "(k)", "bele\nDip:-1.9", tec_ylim, [25, 50], 12.5)
    plot_tec(axes[11], cuib_tec, cuib_quiet)
    style_axis(axes[11], "(l)", "cuib\nDip:-17.9)", tec_ylim, [25, 50], 12.5)
    fig.text(0.014, 0.224, "TEC(TECU)", rotation=90, va="center", ha="center", fontsize=15)

    # (m) F10.7 daily bars
    day_starts = np.arange(len(f107_sfu)) * 24
    axes[12].bar(day_starts, f107_sfu, width=24, align="edge", color="#808080", zorder=1)
    axes[12].axhline(f107_reference, color="blue", linewidth=1.2, zorder=3)
    style_axis(axes[12], "(m)", "Solar Flux\n(F10.7)", (65.8, 120.4), [75, 100], 13)
    axes[12].set_axisbelow(False)

    bottom = axes[12]
    ticks = np.arange(0, 217, 6)
    bottom.set_xticks(ticks)
    bottom.set_xticklabels(["%02d" % (tick % 24) for tick in ticks])
    bottom.tick_params(axis="x", which="major", length=9, labelsize=12.5, pad=5)
    bottom.tick_params(axis="x", which="minor", length=5)
    bottom.set_xlabel("Time (UT)", fontsize=17, labelpad=4)

    top = axes[0].secondary_xaxis("top")
    top.set_xticks(np.arange(0, 217, 24))
    top.set_xticklabels(day_labels)
    top.tick_params(axis="x", labelsize=12.5, length=4, pad=2)

    fig.savefig("out.png", dpi=100)
    plt.close(fig)


if __name__ == "__main__":
    main()
